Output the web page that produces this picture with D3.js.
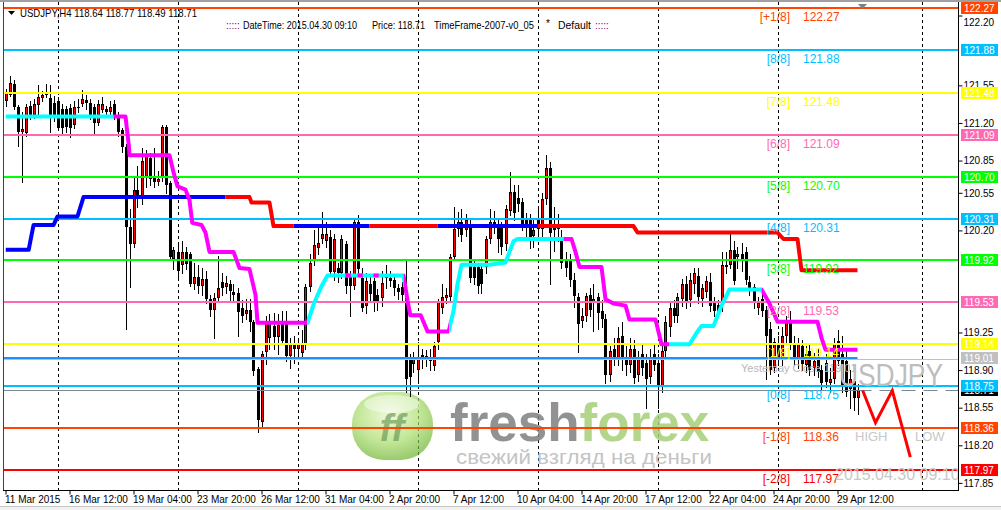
<!DOCTYPE html>
<html lang="en">
<head>
<meta charset="utf-8" />
<title>USDJPY H4</title>
<script src="https://cdn.jsdelivr.net/npm/d3@7"></script>
<style>
  body { margin: 0; background: #fff; }
  svg { display: block; }
  text { font-family: "Liberation Sans", Arial, sans-serif; }
</style>
</head>
<body>
<svg width="1001" height="510"></svg>
<script>
// ---- H4 candles, 11 Mar 2015 20:00 .. 30 Apr 2015 08:00 ----
var opens = [
 121.40,121.46,121.56,121.35,121.12,121.11,121.36,121.27,121.37,121.43,
 121.46,121.43,121.39,121.40,121.33,121.33,121.34,121.18,121.35,121.38,
 121.41,121.39,121.35,121.20,121.32,121.33,121.30,121.38,121.27,121.13,
 120.98,120.23,120.07,120.58,120.49,120.70,120.87,120.70,120.65,120.69,
 121.16,120.64,119.93,120.00,119.88,120.00,119.98,119.70,119.77,119.68,
 119.75,119.56,119.46,119.57,119.72,119.67,119.70,119.63,119.62,119.48,
 119.42,119.46,119.35,118.91,118.42,119.07,119.20,119.31,119.21,119.33,
 119.33,119.03,119.14,119.10,119.06,119.14,119.67,119.92,120.04,120.12,
 120.10,120.14,119.81,119.85,119.80,120.07,119.77,119.68,120.28,119.76,
 119.50,119.70,119.73,119.60,119.57,119.78,119.76,119.74,119.66,119.67,
 119.62,119.00,118.96,118.90,119.02,119.03,118.98,118.94,119.16,119.48,
 119.57,119.58,119.95,120.21,120.28,120.20,120.26,119.86,119.86,119.84,
 119.86,120.12,120.28,120.25,120.22,120.07,120.38,120.56,120.50,120.46,
 120.30,120.30,120.15,120.30,120.21,120.49,120.78,120.24,120.23,120.12,
 119.93,119.92,119.74,119.58,119.36,119.40,119.60,119.52,119.58,119.45,
 119.38,118.85,119.10,119.00,119.22,119.02,118.95,119.10,118.85,119.05,
 118.97,118.84,119.05,118.97,118.75,119.08,119.30,119.48,119.40,119.56,
 119.70,119.55,119.70,119.78,119.56,119.63,119.72,119.53,119.51,119.51,
 119.86,119.88,120.02,119.95,119.98,120.00,119.72,119.67,119.48,119.56,
 119.46,119.28,118.92,119.15,119.00,119.22,119.37,119.15,118.99,119.12,
 118.95,119.08,118.92,119.02,118.90,118.97,118.78,118.82,119.17,119.05,
 118.98,118.72,118.80,118.64];
var highs = [
 121.52,121.64,121.60,121.37,121.30,121.38,121.40,121.42,121.55,121.50,
 121.56,121.55,121.45,121.44,121.38,121.36,121.38,121.40,121.42,121.51,
 121.46,121.42,121.38,121.41,121.44,121.36,121.40,121.41,121.30,121.15,
 121.00,120.40,120.70,120.80,120.97,120.95,120.92,120.97,120.75,121.18,
 121.18,120.66,120.05,120.08,120.10,120.05,120.00,119.90,119.88,119.85,
 119.82,119.60,119.62,119.96,119.80,119.78,119.74,119.70,119.66,119.55,
 119.56,119.56,119.37,118.93,119.08,119.40,119.42,119.43,119.42,119.45,
 119.45,119.20,119.22,119.20,119.27,119.70,119.98,120.20,120.22,120.37,
 120.28,120.20,120.17,119.90,120.16,120.10,119.82,120.30,120.34,119.85,
 119.80,119.78,119.76,119.65,119.82,119.88,119.82,119.78,119.70,119.72,
 119.92,119.05,119.07,119.16,119.10,119.09,119.10,119.16,119.56,119.70,
 119.66,119.98,120.42,120.37,120.40,120.35,120.30,119.92,119.90,119.90,
 120.15,120.40,120.38,120.30,120.28,120.44,120.74,120.62,120.62,120.50,
 120.36,120.35,120.30,120.40,120.55,120.90,120.84,120.42,120.35,120.20,
 120.00,119.98,119.80,119.62,119.48,119.62,119.66,119.70,119.62,119.55,
 119.42,119.12,119.20,119.30,119.35,119.12,119.20,119.18,119.08,119.15,
 119.05,119.10,119.15,119.05,119.12,119.40,119.52,119.55,119.62,119.75,
 119.78,119.80,119.85,119.85,119.70,119.78,119.80,119.58,119.55,120.00,
 120.00,120.17,120.10,120.05,120.08,120.05,119.78,119.70,119.58,119.62,
 119.50,119.35,119.20,119.22,119.30,119.40,119.45,119.22,119.20,119.18,
 119.12,119.15,119.06,119.10,118.95,119.05,118.92,119.20,119.27,119.22,
 119.10,118.90,118.92,118.77];
var lows = [
 121.36,121.45,121.33,120.99,120.65,121.08,121.24,121.25,121.27,121.40,
 121.44,121.12,121.22,121.13,121.10,121.12,121.07,121.15,121.30,121.36,
 121.33,121.24,121.11,121.18,121.30,121.26,121.27,121.24,121.08,120.93,
 119.28,119.67,120.05,120.42,120.45,120.60,120.62,120.60,120.62,120.66,
 120.55,119.93,119.84,119.75,119.80,119.84,119.68,119.65,119.62,119.60,
 119.52,119.40,119.20,119.55,119.60,119.62,119.55,119.55,119.22,119.35,
 119.38,119.26,118.85,118.32,118.38,118.96,119.10,119.10,119.05,119.14,
 118.98,118.92,118.97,119.00,119.02,119.10,119.64,119.88,119.98,120.08,
 120.05,119.78,119.74,119.72,119.76,119.62,119.40,119.65,119.80,119.45,
 119.43,119.55,119.45,119.46,119.50,119.66,119.68,119.60,119.56,119.54,
 118.70,118.66,118.88,118.78,118.92,118.94,118.90,118.90,119.10,119.43,
 119.52,119.55,119.92,120.15,120.10,120.15,119.72,119.70,119.62,119.62,
 119.80,120.08,120.18,120.00,119.98,120.02,120.34,120.30,120.38,120.20,
 120.15,120.04,120.05,120.12,120.15,120.45,119.70,120.01,120.10,119.85,
 119.78,119.68,119.49,119.07,119.30,119.36,119.40,119.26,119.28,119.30,
 118.78,118.80,118.95,118.95,118.90,118.85,118.88,118.78,118.80,118.85,
 118.55,118.78,118.90,118.55,118.70,119.00,119.22,119.35,119.35,119.50,
 119.48,119.50,119.62,119.52,119.50,119.58,119.45,119.40,119.40,119.45,
 119.80,119.85,119.70,119.85,119.82,119.70,119.60,119.48,119.42,119.40,
 118.82,118.86,118.88,118.95,118.95,119.15,119.10,118.95,118.92,118.90,
 118.88,118.85,118.85,118.84,118.72,118.74,118.70,118.78,118.95,118.70,
 118.66,118.55,118.53,118.49];
var closes = [
 121.48,121.57,121.35,121.12,121.14,121.35,121.27,121.38,121.44,121.46,
 121.48,121.27,121.27,121.15,121.15,121.16,121.15,121.35,121.34,121.42,
 121.39,121.27,121.20,121.38,121.38,121.30,121.35,121.27,121.12,120.98,
 120.23,120.07,120.58,120.50,120.85,120.90,120.68,120.65,120.68,121.16,
 120.62,119.95,120.02,119.82,120.00,119.89,119.70,119.77,119.68,119.75,
 119.56,119.46,119.57,119.66,119.66,119.71,119.64,119.60,119.44,119.40,
 119.46,119.35,118.89,118.44,119.05,119.35,119.35,119.21,119.32,119.17,
 119.03,119.14,119.10,119.14,119.14,119.67,119.90,120.06,120.08,120.17,
 120.17,119.81,120.12,119.80,120.12,119.68,119.68,120.28,119.84,119.48,
 119.73,119.61,119.53,119.52,119.71,119.76,119.73,119.66,119.63,119.60,
 118.82,118.84,119.00,119.01,119.04,119.02,119.02,119.12,119.53,119.58,
 119.60,119.95,120.21,120.28,120.16,120.30,119.76,119.76,119.68,119.70,
 120.12,120.28,120.23,120.12,120.05,120.40,120.56,120.36,120.45,120.26,
 120.24,120.12,120.20,120.21,120.49,120.78,120.18,120.20,120.21,119.90,
 119.85,119.74,119.59,119.33,119.40,119.59,119.46,119.56,119.43,119.38,
 118.85,119.08,119.00,119.20,119.00,118.95,119.10,118.83,119.00,118.92,
 118.82,119.00,118.95,118.75,119.08,119.35,119.48,119.40,119.58,119.70,
 119.52,119.74,119.80,119.58,119.66,119.73,119.50,119.45,119.41,119.88,
 119.88,120.02,119.73,119.98,119.93,119.74,119.65,119.54,119.52,119.45,
 119.22,118.90,119.16,119.00,119.22,119.37,119.15,119.00,119.15,118.96,
 119.05,118.90,118.98,118.88,118.78,118.79,118.82,119.15,118.98,118.75,
 118.70,118.82,118.64,118.71];

// time axis (bar index of each label)
var timeIdx = [0,16,32,48,64,80,96,112,128,144,160,176,192,208];
var timeLabels = ['11 Mar 2015','16 Mar 12:00','19 Mar 04:00','23 Mar 20:00','26 Mar 12:00',
  '31 Mar 04:00','2 Apr 20:00','7 Apr 12:00','10 Apr 04:00','14 Apr 20:00','17 Apr 12:00',
  '22 Apr 04:00','24 Apr 20:00','29 Apr 12:00'];
// weekly separators (bar index)
var weekIdx = [13,43,73,103,133,163,193,229];

// price axis ticks (the ones not covered by the level boxes)
var priceTicks = [122.20,121.55,121.20,120.85,120.55,120.20,119.25,118.90,118.55,118.20,117.85];

// Murrey math levels
var levelNames = ['[+1/8]','[8/8]','[7/8]','[6/8]','[5/8]','[4/8]','[3/8]','[2/8]','[1/8]','[0/8]','[-1/8]','[-2/8]'];
var levelValues = [122.27,121.88,121.48,121.09,120.70,120.31,119.92,119.53,119.14,118.75,118.36,117.97];
var levelColors = ['#ff4500','#00bfff','#ffff00','#ff69b4','#00ff00','#00bfff','#00ff00','#ff69b4','#ffff00','#00bfff','#ff4500','#ff0000'];

var yesterdayClose = 119.01;
var lastPrice = 118.71;

// slow trend line: [bar, price] breakpoints, colour runs
var slowPts = [[0,120.02],[5.8,120.02],[7,120.25],[12,120.25],[13,120.33],[18,120.33],[19.5,120.51],
  [61,120.51],[61.5,120.46],[66,120.46],[67,120.24],[157,120.24],[158,120.18],[193,120.18],
  [194.5,120.12],[198,120.12],[199,119.83],[213,119.83]];
var slowRuns = [[0,55,'#0000ff'],[55,72,'#ff0000'],[72,91,'#0000ff'],[91,108,'#ff0000'],[108,133,'#0000ff'],[133,214,'#ff0000']];

// fast trend line
var fastPts = [[0,121.26],[30,121.26],[30.8,121.00],[31,120.90],[41,120.90],[42,120.74],[43,120.61],
  [45,120.58],[46,120.48],[46.7,120.27],[49,120.25],[50,120.18],[51,120.00],[57,120.00],[58.5,119.85],
  [61,119.84],[62.5,119.60],[63,119.34],[75.5,119.34],[77,119.51],[79,119.68],[80.5,119.78],
  [99.5,119.78],[100.5,119.55],[101.2,119.41],[103.8,119.41],[105.5,119.26],[110.8,119.26],
  [112,119.45],[113,119.70],[114,119.88],[121,119.88],[125,119.90],[127,120.10],[128,120.12],
  [141.5,120.12],[142.5,120.00],[143.5,119.86],[149,119.86],[150,119.56],[152,119.52],[155,119.50],
  [156,119.37],[162.5,119.37],[164,119.14],[171,119.14],[173,119.26],[174,119.31],[177,119.31],
  [179,119.50],[181,119.65],[189,119.65],[191,119.52],[193,119.35],[203,119.35],[204,119.20],
  [205,119.09],[213,119.09]];
var fastRuns = [[0,27,'#00ffff'],[27,75.5,'#ff00ff'],[75.5,99.5,'#00ffff'],[85,86.3,'#ff00ff'],
  [88,89.3,'#ff00ff'],[92,93.3,'#ff00ff'],[99.5,111,'#ff00ff'],[111,139.5,'#00ffff'],
  [139.5,166,'#ff00ff'],[166,189,'#00ffff'],[189,214,'#ff00ff']];

// projected zigzag
var zigIdx = [214.3,217.5,221.7,226.2];
var zigVals = [118.71,118.41,118.71,118.09];

var svg = d3.select('svg');
var plotL = 4, plotR = 958, plotT = 2, plotB = 490;

var x = d3.scaleLinear().domain([0, 213]).range([5.5, 857.5]);
var y = d3.scaleLinear().domain([117.97, 122.27]).range([470, 8]);

var defs = svg.append('defs');
defs.append('clipPath').attr('id', 'plot')
  .append('rect').attr('x', plotL).attr('y', plotT).attr('width', plotR - plotL).attr('height', plotB - plotT);

// window frame
svg.append('rect').attr('x', 0).attr('y', 0).attr('width', 1001).attr('height', 2).attr('fill', '#a0a0a0');
svg.append('rect').attr('x', 0).attr('y', 506).attr('width', 1001).attr('height', 4).attr('fill', '#f0f0f0');
svg.append('line').attr('x1', 0).attr('x2', 1001).attr('y1', 506.5).attr('y2', 506.5).attr('stroke', '#c8c8c8');

var plot = svg.append('g').attr('clip-path', 'url(#plot)');

// weekly separators
plot.selectAll('line.week').data(weekIdx).enter().append('line')
  .attr('x1', function(d) { return Math.round(x(d)) + 0.5; })
  .attr('x2', function(d) { return Math.round(x(d)) + 0.5; })
  .attr('y1', plotT).attr('y2', plotB)
  .attr('stroke', '#000').attr('stroke-dasharray', '3,3');

// watermark logo
var logo = plot.append('g');
var grad = defs.append('radialGradient').attr('id', 'ball').attr('cx', '45%').attr('cy', '35%').attr('r', '65%');
grad.append('stop').attr('offset', '0%').attr('stop-color', '#e6f7c8');
grad.append('stop').attr('offset', '60%').attr('stop-color', '#a8dc6a');
grad.append('stop').attr('offset', '100%').attr('stop-color', '#6fb532');
logo.append('rect').attr('x', 352).attr('y', 392).attr('width', 81).attr('height', 68).attr('rx', 32)
  .attr('fill', 'url(#ball)').attr('opacity', 0.7);
logo.append('ellipse').attr('cx', 392).attr('cy', 404).attr('rx', 28).attr('ry', 9)
  .attr('fill', '#fff').attr('opacity', 0.45);
logo.append('text').attr('x', 392).attr('y', 441).attr('text-anchor', 'middle')
  .attr('font-size', 38).attr('font-weight', 'bold').attr('font-style', 'italic')
  .attr('fill', '#5e8f48').attr('opacity', 0.6).text('ff');
var brand = logo.append('text').attr('x', 450).attr('y', 441).attr('font-size', 53).attr('font-weight', 'bold');
brand.append('tspan').attr('fill', '#7f7f7f').attr('fill-opacity', 0.85).text('fresh');
brand.append('tspan').attr('fill', '#a3cf78').attr('fill-opacity', 0.85).text('forex');
logo.append('text').attr('x', 456).attr('y', 464).attr('font-size', 21).attr('fill', '#c4c4c4')
  .attr('textLength', 256).attr('lengthAdjust', 'spacingAndGlyphs').text('свежий взгляд на деньги');

// candles
var bars = d3.range(opens.length).map(function(i) {
  return { i: i, o: opens[i], h: highs[i], l: lows[i], c: closes[i] };
});
var cg = plot.append('g');
bars.forEach(function(b) {
  var cx = Math.round(x(b.i));
  cg.append('line').attr('x1', cx + 0.5).attr('x2', cx + 0.5)
    .attr('y1', Math.round(y(b.h))).attr('y2', Math.round(y(b.l)) + 1).attr('stroke', '#000');
  var top = Math.round(y(Math.max(b.o, b.c)));
  var bot = Math.round(y(Math.min(b.o, b.c)));
  var h = Math.max(1, bot - top);
  cg.append('rect').attr('x', cx - 1).attr('y', top).attr('width', 3).attr('height', h).attr('fill', '#000');
  if (b.c > b.o && h > 2) {
    cg.append('rect').attr('x', cx).attr('y', top + 1).attr('width', 1).attr('height', h - 2).attr('fill', '#ff0000');
  }
});

// level lines
plot.selectAll('line.lvl').data(levelValues).enter().append('line')
  .attr('x1', plotL).attr('x2', plotR)
  .attr('y1', function(d) { return Math.round(y(d)); })
  .attr('y2', function(d) { return Math.round(y(d)); })
  .attr('stroke', function(d, i) { return levelColors[i]; }).attr('stroke-width', 2);

// yesterday close
var yc = Math.round(y(yesterdayClose));
plot.append('line').attr('x1', plotL).attr('x2', plotR).attr('y1', yc + 1.5).attr('y2', yc + 1.5)
  .attr('stroke', '#c0c0c0');
plot.append('line').attr('x1', plotL).attr('x2', x(213)).attr('y1', yc).attr('y2', yc)
  .attr('stroke', '#1e90ff').attr('stroke-width', 2);

// bid line
var yb = Math.round(y(lastPrice)) + 0.5;
plot.append('line').attr('x1', plotL).attr('x2', x(213)).attr('y1', yb).attr('y2', yb).attr('stroke', '#778899');
plot.append('line').attr('x1', x(213)).attr('x2', plotR).attr('y1', yb).attr('y2', yb)
  .attr('stroke', '#778899').attr('stroke-dasharray', '14,8');

// trend lines
var line = d3.line().x(function(d) { return x(d[0]); }).y(function(d) { return y(d[1]); });
function drawRuns(pts, runs, name) {
  runs.forEach(function(r, k) {
    var id = name + k;
    defs.append('clipPath').attr('id', id).append('rect')
      .attr('x', x(r[0])).attr('y', 0).attr('width', x(r[1]) - x(r[0])).attr('height', 510);
    plot.append('g').attr('clip-path', 'url(#' + id + ')').append('path')
      .attr('d', line(pts)).attr('fill', 'none').attr('stroke', r[2])
      .attr('stroke-width', 4).attr('stroke-linejoin', 'round');
  });
}
drawRuns(slowPts, slowRuns, 'slow');
drawRuns(fastPts, fastRuns, 'fast');

// level labels
var lbl = plot.append('g').attr('font-size', 12);
levelValues.forEach(function(v, i) {
  var yy = Math.round(y(v)) + 13;
  lbl.append('text').attr('x', 790).attr('y', yy).attr('text-anchor', 'end')
    .attr('fill', levelColors[i]).text(levelNames[i]);
  lbl.append('text').attr('x', 803).attr('y', yy).attr('fill', levelColors[i]).text(v.toFixed(2));
});
plot.append('text').attr('x', 741).attr('y', yc + 14).attr('font-size', 11).attr('fill', '#b8b8b8')
  .text('Yesterday Close ' + yesterdayClose.toFixed(2));

// symbol watermark and projection
plot.append('text').attr('x', 839).attr('y', 386).attr('font-size', 31).attr('fill', '#bdbdbd')
  .attr('textLength', 104).attr('lengthAdjust', 'spacingAndGlyphs').text('USDJPY');
plot.append('text').attr('x', 855).attr('y', 441).attr('font-size', 13).attr('fill', '#c8c8c8').text('HIGH');
plot.append('text').attr('x', 915).attr('y', 441).attr('font-size', 13).attr('fill', '#c8c8c8').text('LOW');
plot.append('text').attr('x', 835).attr('y', 480).attr('font-size', 16).attr('fill', '#c8c8c8').text('2015.04.30 09:10');
plot.append('path')
  .attr('d', line(d3.zip(zigIdx, zigVals)))
  .attr('fill', 'none').attr('stroke', '#ff0000').attr('stroke-width', 3);

// header
svg.append('path').attr('d', 'M8,11 L15,11 L11.5,15 Z').attr('fill', '#000');
svg.append('text').attr('x', 20).attr('y', 17).attr('font-size', 11).attr('fill', '#000')
  .attr('textLength', 177).attr('lengthAdjust', 'spacingAndGlyphs')
  .text('USDJPY,H4  118.64 118.77 118.49 118.71');
var hdr = svg.append('g').attr('font-size', 10);
hdr.append('text').attr('x', 226).attr('y', 29).attr('fill', '#800080').text(':::::');
hdr.append('text').attr('x', 243).attr('y', 29).attr('textLength', 114).attr('lengthAdjust', 'spacingAndGlyphs').text('DateTime: 2015.04.30 09:10');
hdr.append('text').attr('x', 372).attr('y', 29).attr('textLength', 53).attr('lengthAdjust', 'spacingAndGlyphs').text('Price: 118.71');
hdr.append('text').attr('x', 434).attr('y', 29).attr('textLength', 100).attr('lengthAdjust', 'spacingAndGlyphs').text('TimeFrame-2007-v0_05');
hdr.append('text').attr('x', 546).attr('y', 27).text('*');
hdr.append('text').attr('x', 558).attr('y', 29).attr('textLength', 33).attr('lengthAdjust', 'spacingAndGlyphs').text('Default');
hdr.append('text').attr('x', 595).attr('y', 29).attr('fill', '#800080').text(':::::');
svg.append('path').attr('d', 'M858,4 L867,4 L862.5,9 Z').attr('fill', '#808080');

// frame lines
svg.append('line').attr('x1', 3.5).attr('x2', 3.5).attr('y1', 2).attr('y2', plotB).attr('stroke', '#404040');
svg.append('line').attr('x1', 3).attr('x2', plotR + 1).attr('y1', plotB + 0.5).attr('y2', plotB + 0.5).attr('stroke', '#000');
svg.append('line').attr('x1', plotR + 0.5).attr('x2', plotR + 0.5).attr('y1', 2).attr('y2', plotB + 1).attr('stroke', '#000');

// price axis
var yAxis = d3.axisRight(y).tickValues(priceTicks).tickSize(4).tickSizeOuter(0).tickFormat(d3.format('.2f'));
var ya = svg.append('g').attr('transform', 'translate(' + (plotR + 0.5) + ',0)').call(yAxis);
ya.select('.domain').remove();
ya.selectAll('text').attr('font-size', 10).attr('font-family', '"Liberation Sans", Arial, sans-serif').attr('fill', '#000').attr('dx', -2);
ya.selectAll('line').attr('stroke', '#000');
// the top tick label sits just under the first level box
ya.selectAll('.tick').filter(function(d) { return d === 122.20; }).select('text').attr('dy', '0.95em');

// coloured price boxes
var boxVals = [lastPrice, yesterdayClose].concat(levelValues.slice().reverse());
var boxCols = ['#000000', '#c0c0c0'].concat(levelColors.slice().reverse());
var boxes = svg.append('g');
boxVals.forEach(function(v, i) {
  var yy = Math.round(y(v));
  boxes.append('rect').attr('x', 961).attr('y', yy - 6).attr('width', 37).attr('height', 12).attr('fill', boxCols[i]);
  boxes.append('text').attr('x', 964).attr('y', yy + 4).attr('font-size', 10).attr('fill', '#fff').text(v.toFixed(2));
});

// time axis
var xAxis = d3.axisBottom(x).tickValues(timeIdx).tickSize(4).tickSizeOuter(0)
  .tickFormat(function(d, i) { return timeLabels[i]; });
var xa = svg.append('g').attr('transform', 'translate(0,' + (plotB + 0.5) + ')').call(xAxis);
xa.select('.domain').remove();
xa.selectAll('line').attr('stroke', '#000');
xa.selectAll('text').attr('text-anchor', 'start').attr('dx', -1).attr('dy', '0.55em')
  .attr('font-size', 10).attr('font-family', '"Liberation Sans", Arial, sans-serif').attr('fill', '#000');
</script>
</body>
</html>
